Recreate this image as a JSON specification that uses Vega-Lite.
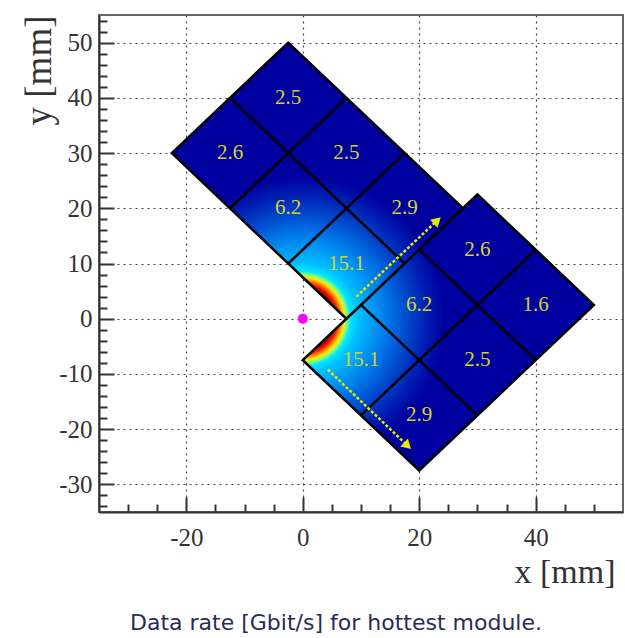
{
  "$schema": "https://vega.github.io/schema/vega-lite/v6.json",
  "width": 524,
  "height": 497,
  "autosize": {"type": "none"},
  "padding": {"left": 99, "top": 15, "right": 2, "bottom": 126},
  "background": "white",
  "config": {"view": {"stroke": "#666666", "strokeWidth": 2}},
  "title": {
    "text": "Data rate [Gbit/s] for hottest module.",
    "orient": "bottom",
    "anchor": "middle",
    "frame": "group",
    "dx": -25,
    "offset": 24,
    "font": "DejaVu Sans",
    "fontSize": 22,
    "fontWeight": "normal",
    "color": "#2a2a5a"
  },
  "datasets": {
    "outline": [
      {"i": 0, "x": -22.5, "y": 30},
      {"i": 1, "x": -2.5, "y": 50},
      {"i": 2, "x": 27.5, "y": 20},
      {"i": 3, "x": 30, "y": 22.5},
      {"i": 4, "x": 50, "y": 2.5},
      {"i": 5, "x": 20, "y": -27.5},
      {"i": 6, "x": 0, "y": -7.5},
      {"i": 7, "x": 7.5, "y": 0}
    ],
    "edges": [
      {"x": -12.5, "y": 20, "x2": 7.5, "y2": 40},
      {"x": -2.5, "y": 10, "x2": 17.5, "y2": 30},
      {"x": -12.5, "y": 40, "x2": 17.5, "y2": 10},
      {"x": 7.5, "y": 0, "x2": 27.5, "y2": 20},
      {"x": 10, "y": 2.5, "x2": 30, "y2": -17.5},
      {"x": 20, "y": 12.5, "x2": 40, "y2": -7.5},
      {"x": 10, "y": -17.5, "x2": 40, "y2": 12.5}
    ],
    "modules": [
      {"x": -2.5, "y": 40, "rate": 2.5},
      {"x": -12.5, "y": 30, "rate": 2.6},
      {"x": 7.5, "y": 30, "rate": 2.5},
      {"x": -2.5, "y": 20, "rate": 6.2},
      {"x": 17.5, "y": 20, "rate": 2.9},
      {"x": 7.5, "y": 10, "rate": 15.1},
      {"x": 30, "y": 12.5, "rate": 2.6},
      {"x": 20, "y": 2.5, "rate": 6.2},
      {"x": 40, "y": 2.5, "rate": 1.6},
      {"x": 10, "y": -7.5, "rate": 15.1},
      {"x": 30, "y": -7.5, "rate": 2.5},
      {"x": 20, "y": -17.5, "rate": 2.9}
    ],
    "arrows": [
      {"arrow": "up", "x": 9.2, "y": 4.0, "x2": 23.1, "y2": 17.8},
      {"arrow": "down", "x": 4.3, "y": -9.2, "x2": 18.0, "y2": -23.0}
    ],
    "origin": [{"x": 0, "y": 0}]
  },
  "encoding": {
    "x": {
      "field": "x",
      "type": "quantitative",
      "scale": {"domain": [-35, 55], "nice": false, "zero": false},
      "axis": {
        "values": [-30, -25, -20, -15, -10, -5, 0, 5, 10, 15, 20, 25, 30, 35, 40, 45, 50],
        "labelExpr": "datum.value % 20 === 0 ? '' + datum.value : ''",
        "labelFlush": false,
        "labelOverlap": false,
        "tickSize": {"condition": {"test": "datum.value % 20 === 0", "value": -15}, "value": -8},
        "gridOpacity": {"condition": {"test": "datum.value % 20 === 0", "value": 1}, "value": 0},
        "gridColor": "#444444",
        "gridDash": [2, 4],
        "gridWidth": 1.2,
        "domainColor": "#333333",
        "domainWidth": 2,
        "tickColor": "#333333",
        "tickWidth": 2,
        "labelFont": "Liberation Serif",
        "labelFontSize": 25,
        "labelColor": "#333333",
        "labelPadding": 28,
        "title": "x [mm]",
        "titleFont": "Liberation Serif",
        "titleFontSize": 34,
        "titleFontWeight": "normal",
        "titleColor": "#333333",
        "titleAlign": "right",
        "titleBaseline": "alphabetic",
        "titleX": 516,
        "titleY": 70
      }
    },
    "y": {
      "field": "y",
      "type": "quantitative",
      "scale": {"domain": [-35, 55], "nice": false, "zero": false},
      "axis": {
        "values": [-34, -32, -30, -28, -26, -24, -22, -20, -18, -16, -14, -12, -10, -8, -6, -4, -2, 0, 2, 4, 6, 8, 10, 12, 14, 16, 18, 20, 22, 24, 26, 28, 30, 32, 34, 36, 38, 40, 42, 44, 46, 48, 50, 52, 54],
        "labelExpr": "datum.value % 10 === 0 ? '' + datum.value : ''",
        "labelFlush": false,
        "labelOverlap": false,
        "tickSize": {"condition": {"test": "datum.value % 10 === 0", "value": -15}, "value": -8},
        "gridOpacity": {"condition": {"test": "datum.value % 10 === 0", "value": 1}, "value": 0},
        "gridColor": "#444444",
        "gridDash": [2, 4],
        "gridWidth": 1.2,
        "domainColor": "#333333",
        "domainWidth": 2,
        "tickColor": "#333333",
        "tickWidth": 2,
        "labelFont": "Liberation Serif",
        "labelFontSize": 25,
        "labelColor": "#333333",
        "labelPadding": 22,
        "title": "y [mm]",
        "titleFont": "Liberation Serif",
        "titleFontSize": 37,
        "titleFontWeight": "normal",
        "titleColor": "#333333",
        "titleAngle": -90,
        "titleAlign": "right",
        "titleBaseline": "alphabetic",
        "titleX": -49,
        "titleY": 0
      }
    }
  },
  "layer": [
    {
      "data": {"name": "outline"},
      "mark": {
        "type": "line",
        "filled": true,
        "interpolate": "linear-closed",
        "fill": {
          "gradient": "radial",
          "x1": 0.313, "y1": 0.645, "r1": 0,
          "x2": 0.313, "y2": 0.645, "r2": 0.331,
          "stops": [
            {"offset": 0, "color": "#7a0000"},
            {"offset": 0.212, "color": "#7a0000"},
            {"offset": 0.225, "color": "#a00000"},
            {"offset": 0.25, "color": "#ff2000"},
            {"offset": 0.272, "color": "#ff9000"},
            {"offset": 0.292, "color": "#f8f000"},
            {"offset": 0.312, "color": "#80ff80"},
            {"offset": 0.335, "color": "#00e8ff"},
            {"offset": 0.39, "color": "#00c0ff"},
            {"offset": 0.5, "color": "#0098f4"},
            {"offset": 0.62, "color": "#0070e4"},
            {"offset": 0.74, "color": "#0048cc"},
            {"offset": 0.87, "color": "#0020b4"},
            {"offset": 1, "color": "#00009e"}
          ]
        },
        "stroke": "#000000",
        "strokeWidth": 2.5,
        "strokeJoin": "miter"
      },
      "encoding": {"order": {"field": "i", "type": "quantitative"}}
    },
    {
      "data": {"name": "edges"},
      "mark": {"type": "rule", "color": "#000000", "strokeWidth": 2.5},
      "encoding": {"x2": {"field": "x2"}, "y2": {"field": "y2"}}
    },
    {
      "data": {"name": "modules"},
      "mark": {"type": "text", "font": "Liberation Serif", "fontSize": 21, "color": "#d8d030", "baseline": "middle", "align": "center"},
      "encoding": {"text": {"field": "rate", "type": "quantitative", "format": ".1f"}}
    },
    {
      "data": {"name": "arrows"},
      "mark": {"type": "rule", "color": "#e8e800", "strokeWidth": 2.5, "strokeDash": [3, 2]},
      "encoding": {"x2": {"field": "x2"}, "y2": {"field": "y2"}}
    },
    {
      "data": {"name": "arrows"},
      "transform": [{"filter": "datum.arrow === 'up'"}],
      "mark": {"type": "point", "shape": "triangle-up", "filled": true, "color": "#e8e800", "size": 120, "angle": 47, "opacity": 1},
      "encoding": {"x": {"field": "x2", "type": "quantitative"}, "y": {"field": "y2", "type": "quantitative"}}
    },
    {
      "data": {"name": "arrows"},
      "transform": [{"filter": "datum.arrow === 'down'"}],
      "mark": {"type": "point", "shape": "triangle-up", "filled": true, "color": "#e8e800", "size": 120, "angle": 134, "opacity": 1},
      "encoding": {"x": {"field": "x2", "type": "quantitative"}, "y": {"field": "y2", "type": "quantitative"}}
    },
    {
      "data": {"name": "origin"},
      "mark": {"type": "circle", "color": "#ff00ff", "size": 100, "opacity": 1}
    }
  ]
}
